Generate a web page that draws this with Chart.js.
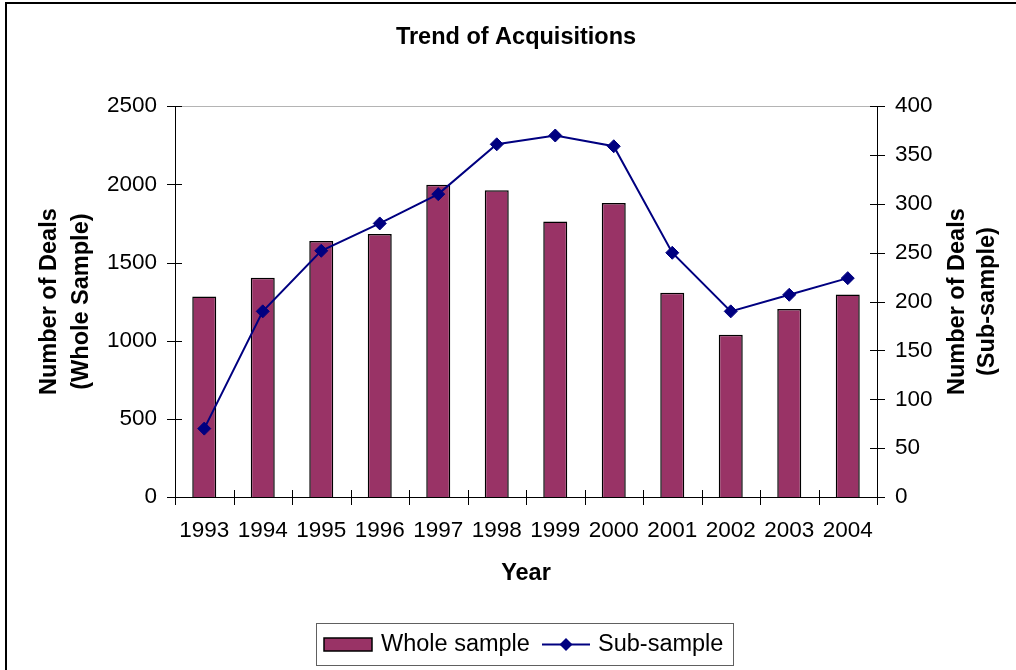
<!DOCTYPE html>
<html><head><meta charset="utf-8">
<script src="https://cdn.jsdelivr.net/npm/chart.js@4/dist/chart.umd.min.js"></script>
<style>
html,body{margin:0;padding:0;background:#fff;overflow:hidden;width:1016px;height:670px}
#frame{position:absolute;left:5px;top:2px;width:1100px;height:800px;border:2px solid #000;box-sizing:border-box}
#wrap{position:absolute;left:0;top:0;width:1016px;height:670px}
</style></head><body>
<div id="frame"></div>
<div id="wrap"><canvas id="c" width="1016" height="670"></canvas></div>
<script>
const years = ['1993','1994','1995','1996','1997','1998','1999','2000','2001','2002','2003','2004'];
const wholeSample = [1283, 1402, 1637, 1682, 1997, 1963, 1763, 1880, 1306, 1038, 1202, 1296];
const subSample = [70, 190, 252, 280, 310, 361, 370, 359, 250, 190, 207, 224];
const leftAxisMax = 2500, leftAxisStep = 500;
const rightAxisMax = 400, rightAxisStep = 50;
const chartTitle = 'Trend of Acquisitions';
const xTitle = 'Year';
const leftTitle = ['Number of Deals', '(Whole Sample)'];
const rightTitle = ['Number of Deals', '(Sub-sample)'];

const FONT = "'Liberation Sans', Arial, sans-serif";
const BAR_COLOR = '#993366';
const LINE_COLOR = '#000080';
Chart.defaults.font.family = FONT;
Chart.defaults.color = '#000';

function seg(ctx, x1, y1, x2, y2){ ctx.beginPath(); ctx.moveTo(x1,y1); ctx.lineTo(x2,y2); ctx.stroke(); }

const extras = {
  id: 'extras',
  afterDraw(chart){
    const ctx = chart.ctx, ca = chart.chartArea;
    const x = chart.scales.x, yl = chart.scales.yL, yr = chart.scales.yR;
    ctx.save();
    ctx.lineWidth = 1;
    ctx.strokeStyle = '#b4b4b4';
    const ty = Math.round(yl.getPixelForValue(yl.max)) + 0.5;
    seg(ctx, ca.left, ty, ca.right, ty);
    ctx.strokeStyle = '#000';
    yl.ticks.forEach(t => { const y = Math.round(yl.getPixelForValue(t.value)) + 0.5; seg(ctx, ca.left - 8, y, ca.left + 7, y); });
    yr.ticks.forEach(t => { const y = Math.round(yr.getPixelForValue(t.value)) + 0.5; seg(ctx, ca.right - 7, y, ca.right + 8, y); });
    const step = x.getPixelForValue(1) - x.getPixelForValue(0);
    for (let i = 0; i <= x.ticks.length; i++) {
      const xp = Math.round(x.getPixelForValue(0) - step / 2 + i * step) + 0.5;
      seg(ctx, xp, ca.bottom - 7, xp, ca.bottom + 8);
    }
    ctx.fillStyle = '#000';
    ctx.font = 'bold 23.5px ' + FONT;
    ctx.textAlign = 'center';
    ctx.textBaseline = 'middle';
    const cy = (ca.top + ca.bottom) / 2;
    ctx.save();
    ctx.translate(958, cy);
    ctx.rotate(-Math.PI / 2);
    ctx.fillText(rightTitle[0], 0, 0);
    ctx.fillText(rightTitle[1], 0, 30);
    ctx.restore();
    const ds = chart.data.datasets;
    const bar = ds.find(d => d.type === 'bar'), line = ds.find(d => d.type === 'line');
    const lx = 316, ly = 623, lw = 417, lh = 42;
    ctx.strokeStyle = '#606060';
    ctx.lineWidth = 1;
    ctx.strokeRect(lx + 0.5, ly + 0.5, lw, lh);
    const my = ly + lh / 2 + 0.5;
    ctx.fillStyle = bar.backgroundColor;
    ctx.fillRect(324, 638, 48, 13);
    ctx.strokeStyle = '#000';
    ctx.lineWidth = 1.5;
    ctx.strokeRect(324, 638, 48, 13);
    ctx.fillStyle = '#000';
    ctx.font = '23.5px ' + FONT;
    ctx.textAlign = 'left';
    ctx.fillText(bar.label, 381, my);
    ctx.strokeStyle = line.borderColor;
    ctx.lineWidth = 2;
    seg(ctx, 542, my, 590, my);
    ctx.fillStyle = line.pointBackgroundColor;
    ctx.beginPath();
    ctx.moveTo(566 - 6.5, my); ctx.lineTo(566, my - 6.5); ctx.lineTo(566 + 6.5, my); ctx.lineTo(566, my + 6.5); ctx.closePath();
    ctx.fill();
    ctx.fillStyle = '#000';
    ctx.fillText(line.label, 598, my);
    ctx.restore();
  }
};

const plain = v => String(v);

new Chart(document.getElementById('c'), {
  data: {
    labels: years,
    datasets: [
      { type: 'line', label: 'Sub-sample', data: subSample, yAxisID: 'yR', order: 1,
        borderColor: LINE_COLOR, borderWidth: 2, tension: 0,
        pointStyle: 'rectRot', pointRadius: 6.5, pointBackgroundColor: LINE_COLOR, pointBorderColor: LINE_COLOR, pointBorderWidth: 1 },
      { type: 'bar', label: 'Whole sample', data: wholeSample, yAxisID: 'yL', order: 2,
        backgroundColor: BAR_COLOR, borderColor: '#000', borderWidth: 1.5,
        barPercentage: 0.41, categoryPercentage: 1 }
    ]
  },
  options: {
    responsive: false,
    animation: false,
    layout: { padding: { left: 16, right: 0, top: 0, bottom: 70 } },
    plugins: {
      legend: { display: false },
      tooltip: { enabled: false },
      title: { display: true, text: chartTitle, color: '#000',
        font: { size: 23.5, weight: 'bold' }, padding: { top: 23, bottom: 55 } }
    },
    scales: {
      x: {
        type: 'category', offset: true,
        grid: { display: false },
        border: { display: true, color: '#000', width: 1 },
        ticks: { font: { size: 22.5 }, color: '#000', padding: 12, maxRotation: 0, autoSkip: false },
        title: { display: true, text: xTitle, color: '#000', font: { size: 23.5, weight: 'bold' }, padding: { top: 0, bottom: 12 } },
        afterFit(s) { s.height = 103; }
      },
      yL: {
        position: 'left', min: 0, max: leftAxisMax,
        grid: { display: false },
        border: { display: true, color: '#000', width: 1 },
        ticks: { stepSize: leftAxisStep, font: { size: 22.5 }, color: '#000', padding: 10, callback: plain },
        title: { display: true, text: leftTitle, color: '#000', font: { size: 23.5, weight: 'bold', lineHeight: 1.36 }, padding: { top: 18, bottom: 0 } },
        afterFit(s) { s.width = 159; }
      },
      yR: {
        position: 'right', min: 0, max: rightAxisMax,
        grid: { display: false },
        border: { display: true, color: '#000', width: 1 },
        ticks: { stepSize: rightAxisStep, font: { size: 22.5 }, color: '#000', padding: 10, callback: plain },
        afterFit(s) { s.width = 139; }
      }
    }
  },
  plugins: [extras]
});
</script>
</body></html>
